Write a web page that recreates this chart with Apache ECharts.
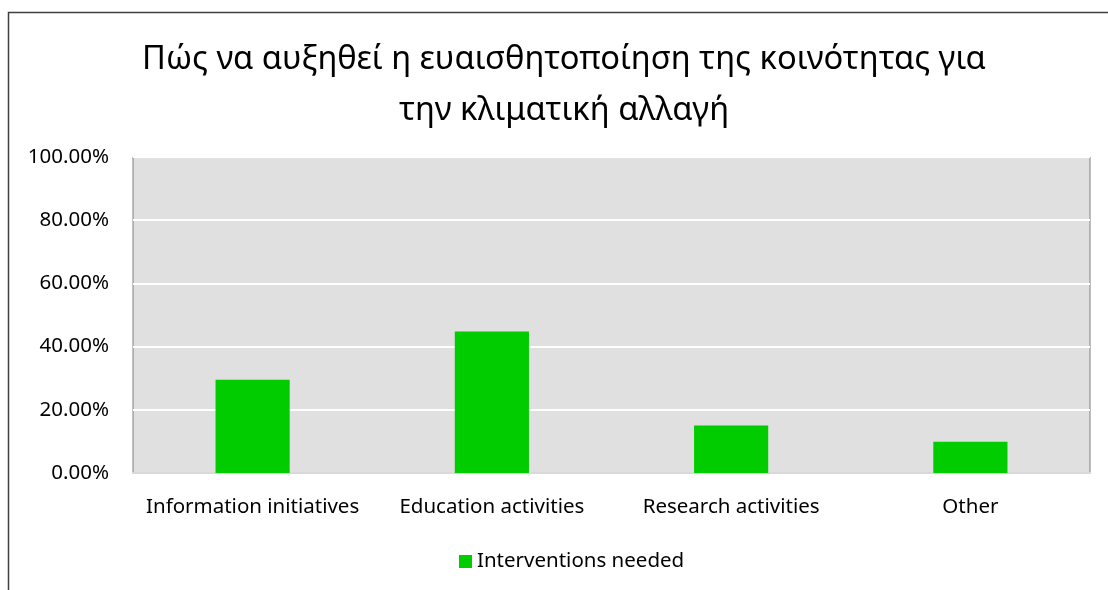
<!DOCTYPE html>
<html><head><meta charset="utf-8">
<script src="https://cdn.jsdelivr.net/npm/echarts@6/dist/echarts.min.js"></script>
<style>html,body{margin:0;padding:0;background:#fff;}#c{width:1108px;height:590px;}</style>
</head><body><div id="c"></div>
<script>
const titleText = 'Πώς να αυξηθεί η ευαισθητοποίηση της κοινότητας για\nτην κλιματική αλλαγή';
const categories = ['Information initiatives', 'Education activities', 'Research activities', 'Other'];
const seriesName = 'Interventions needed';
const values = [0.295, 0.448, 0.15, 0.099];
const FONT = '"Noto Sans", "Open Sans", sans-serif';
const chart = echarts.init(document.getElementById('c'), null, {renderer: 'canvas'});
chart.setOption({
  animation: false,
  backgroundColor: '#fff',
  textStyle: {fontFamily: FONT},
  graphic: [{
    type: 'rect', silent: true, z: -1,
    shape: {x: 8.5, y: 12.5, width: 1300, height: 700},
    style: {fill: 'none', stroke: '#404040', lineWidth: 1.5}
  }],
  title: {
    text: titleText, left: 559, textAlign: 'center', top: 29,
    textStyle: {fontFamily: FONT, fontSize: 32.7, fontWeight: 'normal', color: '#000', lineHeight: 51}
  },
  legend: {
    data: [seriesName], left: 454, top: 546, itemWidth: 13, itemHeight: 13, itemGap: 6,
    icon: 'rect', textStyle: {fontFamily: FONT, fontSize: 20.5, color: '#000'}
  },
  grid: {left: 133, right: 18, top: 157, bottom: 117, show: true, backgroundColor: '#e0e0e0', borderColor: '#808080', borderWidth: 1},
  xAxis: {
    type: 'category', data: categories,
    axisLine: {show: true, lineStyle: {color: '#d9d9d9', width: 2}},
    axisTick: {show: false},
    axisLabel: {interval: 0, fontFamily: FONT, fontSize: 20.5, color: '#000', margin: 24}
  },
  yAxis: {
    type: 'value', min: 0, max: 1, interval: 0.2,
    axisLine: {show: false}, axisTick: {show: false},
    splitLine: {show: true, lineStyle: {color: '#fff', width: 2}},
    axisLabel: {fontFamily: FONT, fontSize: 20.5, color: '#000', margin: 24, formatter: v => (v * 100).toFixed(2) + '%'}
  },
  series: [{
    name: seriesName, type: 'bar', data: values, barWidth: '31%',
    itemStyle: {color: '#00cc00'}
  }]
});
</script></body></html>
